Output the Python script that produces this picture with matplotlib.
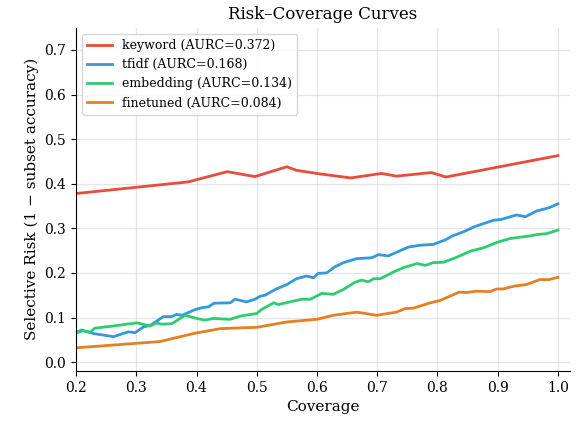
import matplotlib
matplotlib.use("Agg")
import matplotlib.pyplot as plt

plt.rcParams['font.family'] = 'DejaVu Serif'

# coverage / risk points
kw_cov = [0.2, 0.386, 0.451, 0.497, 0.55, 0.566, 0.605, 0.656, 0.707, 0.732, 0.79, 0.814, 1.0]
kw_risk = [0.378, 0.404, 0.427, 0.416, 0.438, 0.430, 0.422, 0.413, 0.423, 0.417, 0.425, 0.415, 0.463]

tf_cov = [0.2, 0.209, 0.229, 0.262, 0.287, 0.298, 0.312, 0.323, 0.345, 0.359, 0.367, 0.376,
          0.398, 0.409, 0.420, 0.429, 0.456, 0.464, 0.483, 0.497, 0.506, 0.514, 0.531, 0.55,
          0.566, 0.583, 0.594, 0.602, 0.616, 0.630, 0.644, 0.666, 0.691, 0.702, 0.718, 0.735,
          0.752, 0.771, 0.793, 0.813, 0.825, 0.843, 0.862, 0.873, 0.893, 0.906, 0.931, 0.946,
          0.965, 0.985, 1.0]
tf_risk = [0.066, 0.072, 0.064, 0.057, 0.068, 0.066, 0.079, 0.082, 0.102, 0.102, 0.107, 0.105,
           0.118, 0.122, 0.124, 0.132, 0.133, 0.141, 0.135, 0.141, 0.148, 0.150, 0.163, 0.174,
           0.187, 0.193, 0.189, 0.199, 0.200, 0.214, 0.223, 0.232, 0.234, 0.241, 0.238, 0.248,
           0.258, 0.262, 0.264, 0.274, 0.283, 0.292, 0.304, 0.309, 0.318, 0.320, 0.330, 0.326,
           0.339, 0.346, 0.355]

em_cov = [0.2, 0.212, 0.223, 0.231, 0.262, 0.301, 0.323, 0.334, 0.342, 0.359, 0.381, 0.400,
          0.414, 0.428, 0.439, 0.456, 0.472, 0.500, 0.508, 0.528, 0.536, 0.555, 0.575, 0.589,
          0.608, 0.627, 0.644, 0.663, 0.674, 0.685, 0.694, 0.705, 0.730, 0.744, 0.766, 0.780,
          0.793, 0.810, 0.830, 0.855, 0.876, 0.898, 0.920, 0.954, 0.965, 0.981, 1.0]
em_risk = [0.066, 0.070, 0.067, 0.076, 0.081, 0.088, 0.081, 0.088, 0.085, 0.086, 0.105, 0.098,
           0.094, 0.098, 0.097, 0.096, 0.103, 0.109, 0.118, 0.133, 0.129, 0.135, 0.141, 0.141,
           0.154, 0.152, 0.163, 0.179, 0.184, 0.180, 0.187, 0.187, 0.204, 0.212, 0.221, 0.217,
           0.223, 0.224, 0.234, 0.249, 0.256, 0.268, 0.277, 0.283, 0.286, 0.288, 0.296]

ft_cov = [0.2, 0.339, 0.395, 0.439, 0.500, 0.550, 0.600, 0.627, 0.666, 0.699, 0.732, 0.746,
          0.760, 0.788, 0.804, 0.821, 0.836, 0.848, 0.865, 0.887, 0.898, 0.909, 0.926, 0.948,
          0.970, 0.985, 1.0]
ft_risk = [0.032, 0.046, 0.064, 0.075, 0.078, 0.090, 0.096, 0.105, 0.112, 0.105, 0.112, 0.120,
           0.121, 0.133, 0.138, 0.148, 0.157, 0.156, 0.159, 0.158, 0.164, 0.164, 0.170, 0.174,
           0.185, 0.185, 0.190]

labels = ['keyword (AURC=0.372)', 'tfidf (AURC=0.168)',
          'embedding (AURC=0.134)', 'finetuned (AURC=0.084)']
colors = ['#e74c3c', '#3498db', '#2ecc71', '#e67e22']

fig = plt.figure(figsize=(5.79, 4.25), dpi=100)
ax = fig.add_axes([0.1313, 0.127, 0.8532, 0.808])

series = [(kw_cov, kw_risk), (tf_cov, tf_risk), (em_cov, em_risk), (ft_cov, ft_risk)]
for (x, y), lab, c in zip(series, labels, colors):
    ax.plot(x, y, color=c, linewidth=2, label=lab)

ax.set_xlim(0.2, 1.02)
ax.set_ylim(-0.02, 0.75)
ax.set_xticks([0.2, 0.3, 0.4, 0.5, 0.6, 0.7, 0.8, 0.9, 1.0])
ax.set_yticks([0.0, 0.1, 0.2, 0.3, 0.4, 0.5, 0.6, 0.7])
ax.grid(True, color='#cccccc', alpha=0.5, linewidth=0.9)
ax.spines['top'].set_visible(False)
ax.spines['right'].set_visible(False)

ax.set_xlabel('Coverage', fontsize=11)
ax.set_ylabel('Selective Risk (1 − subset accuracy)', fontsize=11)
ax.set_title('Risk–Coverage Curves', fontsize=12)
ax.legend(loc='upper left', fontsize=9)

fig.savefig('out.png', dpi=100)
